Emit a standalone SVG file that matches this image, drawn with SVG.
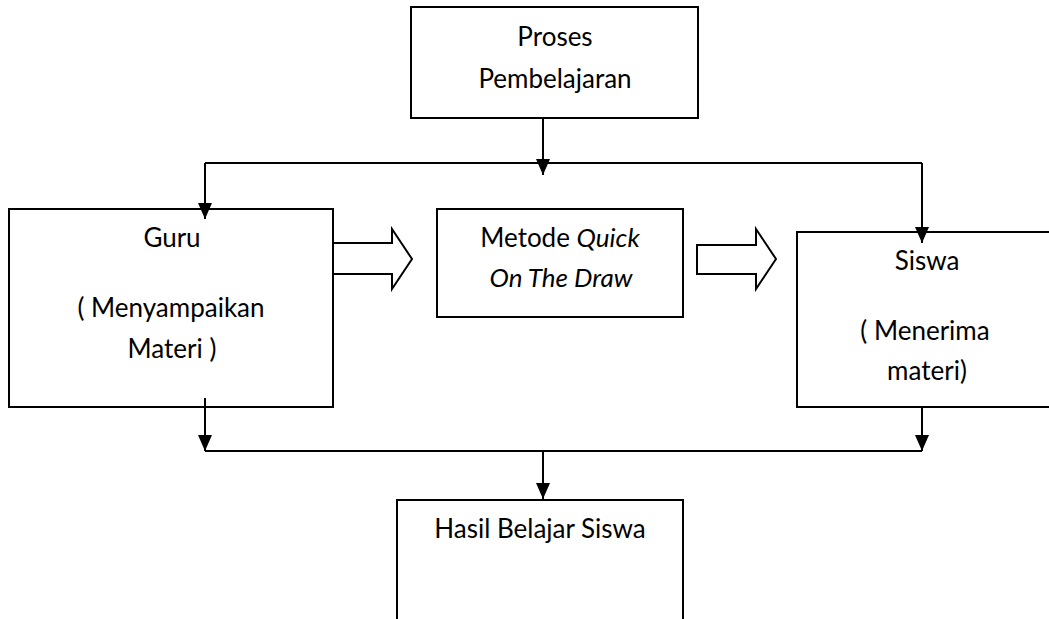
<svg xmlns="http://www.w3.org/2000/svg" width="1049" height="619" viewBox="0 0 1049 619">
<defs>
<style>
.box{fill:#fff;stroke:#000;stroke-width:2}
.blk{fill:#fff;stroke:#000;stroke-width:2;stroke-linejoin:miter}
.con{fill:none;stroke:#000;stroke-width:2}
text{font-family:Lato,"Open Sans","Liberation Sans",sans-serif;font-size:26px;fill:#000;text-anchor:middle}
.it{font-style:italic}
</style>
<marker id="ah" markerUnits="userSpaceOnUse" markerWidth="16" markerHeight="14" refX="16" refY="7" orient="auto">
<path d="M0,0 L16,7 L0,14 Z" fill="#000"/>
</marker>
</defs>
<rect width="1049" height="619" fill="#fff"/>
<g id="proses">
<rect class="box" x="411" y="7" width="287" height="111"/>
<text x="555" y="46">Proses</text>
<text x="555" y="88">Pembelajaran</text>
</g>
<g id="guru">
<rect class="box" x="9" y="209" width="324" height="198"/>
<text x="172" y="247">Guru</text>
<text x="171" y="317">( Menyampaikan</text>
<text x="172" y="358">Materi )</text>
</g>
<g id="metode">
<rect class="box" x="437" y="209" width="246" height="108"/>
<text x="560" y="247">Metode <tspan class="it">Quick</tspan></text>
<text x="561" y="287" class="it">On The Draw</text>
</g>
<g id="siswa">
<rect class="box" x="797" y="232" width="270" height="175"/>
<text x="927" y="270">Siswa</text>
<text x="925" y="340">( Menerima</text>
<text x="927" y="380">materi)</text>
</g>
<g id="hasil">
<rect class="box" x="397" y="500" width="286" height="140"/>
<text x="540" y="538">Hasil Belajar Siswa</text>
</g>
<g id="block-arrows">
<polygon class="blk" points="333,243 392,243 392,229 412,259 392,289 392,274 333,274"/>
<polygon class="blk" points="697,245 756,245 756,229 776,259 756,289 756,274 697,274"/>
</g>
<g id="connectors">
<path class="con" d="M543,118 V175" marker-end="url(#ah)"/>
<path class="con" d="M205,163 H922"/>
<path class="con" d="M205,163 V219" marker-end="url(#ah)"/>
<path class="con" d="M922,163 V243" marker-end="url(#ah)"/>
<path class="con" d="M205,398 V451" marker-end="url(#ah)"/>
<path class="con" d="M922,407 V451" marker-end="url(#ah)"/>
<path class="con" d="M205,451 H922"/>
<path class="con" d="M543,451 V499" marker-end="url(#ah)"/>
</g>
</svg>
